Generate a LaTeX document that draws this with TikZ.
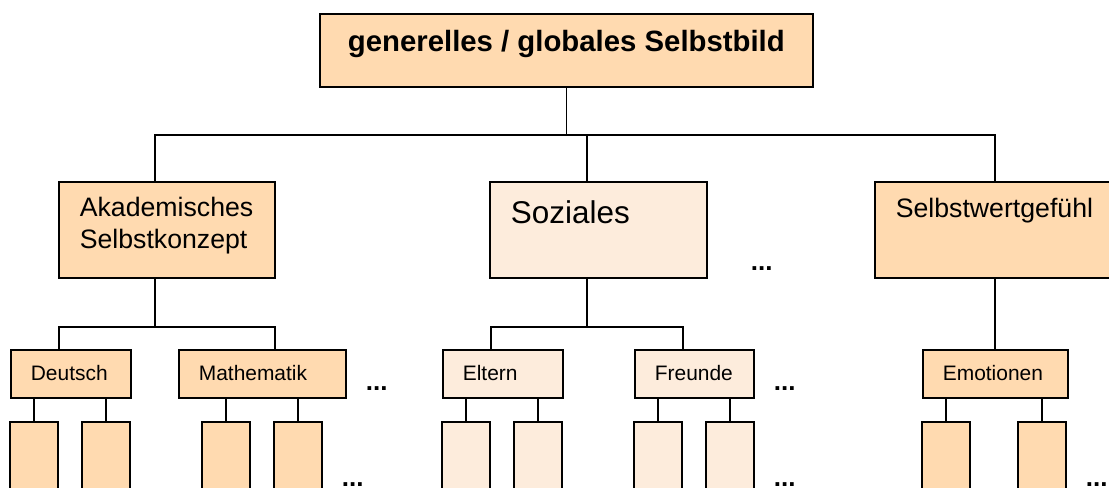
\documentclass[tikz,border=0pt]{standalone}
\usepackage{fontspec}
\setmainfont{Liberation Sans}
\usetikzlibrary{positioning}

\definecolor{peach}{RGB}{255,218,176}
\definecolor{lightpeach}{RGB}{253,236,220}

\begin{document}
\begin{tikzpicture}[
    x = 0.75pt, y = -0.75pt, % pixel grid, y pointing down
    line width = 1.3pt, % line style
    box/.style = {draw = black, fill = peach, anchor = north west,
        inner ysep = 0pt, inner xsep = 15.75pt, align = left},
    light/.style = {fill = lightpeach},
    topbox/.style = {box, align = center, inner xsep = 0pt,
        font = \fontsize{22}{26}\selectfont\bfseries,
        minimum width = 369.75pt, text height = 28.5pt, text depth = 26.25pt},
    mainbox/.style = {box, font = \fontsize{20}{24}\selectfont},
    subbox/.style = {box, inner xsep = 15pt, font = \fontsize{15.7}{18}\selectfont,
        text height = 23.25pt, text depth = 12.75pt},
    leaf/.style = {draw = black, fill = peach, anchor = north, inner sep = 0pt,
        minimum width = 36pt, minimum height = 60pt},
    dots/.style = {anchor = base west, inner sep = 0pt, text depth = 0pt,
        font = \fontsize{19.5}{20}\selectfont\bfseries}
    ]

    \useasboundingbox (0,0) rectangle (1109,488);

    % top
    \node[topbox] (global) at (319,13) {generelles / globales Selbstbild};

    % first level
    \node[mainbox, text width = 130.5pt, text height = 26.25pt, text depth = 45.75pt]
        (akad) at (58,181) {Akademisches\\Selbstkonzept};
    \node[mainbox, light, font = \fontsize{23.6}{28}\selectfont, text width = 131.25pt,
        text height = 31.5pt, text depth = 40.5pt] (sozial) at (489,181) {Soziales};
    \node[mainbox, text width = 148.5pt, text height = 26.6pt, text depth = 45.4pt]
        (selbstwert) at (874,181) {Selbstwertgefühl};

    % second level
    \node[subbox, text width = 60pt] (deutsch) at (10,349) {Deutsch};
    \node[subbox, text width = 95.25pt] (mathe) at (178,349) {Mathematik};
    \node[subbox, light, text width = 60pt] (eltern) at (442,349) {Eltern};
    \node[subbox, light, text width = 59.25pt] (freunde) at (634,349) {Freunde};
    \node[subbox, text width = 78.75pt] (emotion) at (922,349) {Emotionen};

    % third level
    \foreach \x/\name in {34/d1, 106/d2, 226/m1, 298/m2, 946/em1, 1042/em2}
        \node[leaf] (\name) at (\x,421) {};
    \foreach \x/\name in {466/e1, 538/e2, 658/f1, 730/f2}
        \node[leaf, light] (\name) at (\x,421) {};

    % connectors
    \draw (global.south) -- ++(0,47) coordinate (j0);
    \draw ([xshift=-9pt]akad.north) |- (j0) -| (selbstwert.north);
    \draw ([xshift=-8.6pt]sozial.north) -- ([xshift=-8.6pt]sozial.north |- j0);

    \draw ([xshift=-9pt]akad.south) -- ++(0,48) coordinate (j1);
    \draw ([xshift=-9pt]deutsch.north) |- (j1) -| ([xshift=9.4pt]mathe.north);
    \draw ([xshift=-8.6pt]sozial.south) -- ++(0,48) coordinate (j2);
    \draw ([xshift=-9pt]eltern.north) |- (j2) -| ([xshift=-8.6pt]freunde.north);
    \draw (selbstwert.south) -- (selbstwert.south |- emotion.north);

    \foreach \leaf/\parent in {d1/deutsch, d2/deutsch, m1/mathe, m2/mathe,
        e1/eltern, e2/eltern, f1/freunde, f2/freunde, em1/emotion, em2/emotion}
        \draw (\leaf.north) -- (\leaf.north |- \parent.south);

    % dots
    \node[dots] (dotsA) at (750,270) {...};
    \node[dots] (dotsB) at (365,390) {...};
    \node[dots] (dotsC) at (773,390) {...};
    \node[dots] (dotsD) at (341,486) {...};
    \node[dots] (dotsE) at (773,486) {...};
    \node[dots] (dotsF) at (1085,486) {...};
\end{tikzpicture}
\end{document}
